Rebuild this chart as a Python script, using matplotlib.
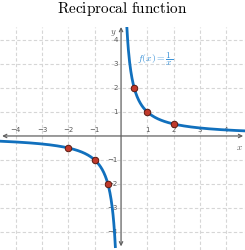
import numpy as np
import matplotlib.pyplot as plt

plt.rcParams['mathtext.fontset'] = 'cm'

# points on the curve
px = [-2, -1, -0.5, 0.5, 1, 2]
py = [-0.5, -1, -2, 2, 1, 0.5]
ticks = [-4, -3, -2, -1, 1, 2, 3, 4]

fig = plt.figure(figsize=(2.45, 2.5), dpi=100)
ax = fig.add_axes([0, 0, 1, 1 - 27 / 250])
ax.set_xlim(-4.6, 4.71)
ax.set_ylim(-4.75, 4.54)
ax.axis('off')

# dashed grid
for t in ticks:
    ax.axvline(t, color='#d6d6d6', lw=0.8, ls=(0, (3, 2)), zorder=0)
    ax.axhline(t, color='#d6d6d6', lw=0.8, ls=(0, (3, 2)), zorder=0)

# axes with arrows
ax.annotate('', xy=(4.64, 0), xytext=(-4.52, 0),
            arrowprops=dict(arrowstyle='<->', color='#606060', lw=0.9,
                            mutation_scale=6, shrinkA=0, shrinkB=0))
ax.annotate('', xy=(0, 4.54), xytext=(0, -4.6),
            arrowprops=dict(arrowstyle='<->', color='#606060', lw=0.9,
                            mutation_scale=6, shrinkA=0, shrinkB=0))

for t in ticks:
    ax.text(t, 0.12, str(t).replace('-', '−'), ha='center', va='bottom',
            fontsize=5, color='#555555')
    ax.text(-0.12, t, str(t).replace('-', '−'), ha='right', va='center',
            fontsize=5, color='#555555')
ax.text(4.5, -0.28, r'$x$', ha='center', va='top', fontsize=6.5, color='#555555')
ax.text(-0.3, 4.3, r'$y$', ha='center', va='center', fontsize=6.5, color='#555555')

# curve
xr = np.linspace(0.22, 4.71, 300)
xl = np.linspace(-4.6, -0.217, 300)
ax.plot(xr, 1 / xr, color='#1170bd', lw=2, zorder=3)
ax.plot(xl, 1 / xl, color='#1170bd', lw=2, zorder=3)

ax.scatter(px, py, s=22, color='#c0392b', edgecolor='#5a1a10', lw=0.7, zorder=4)

ax.text(1.3, 3.2, r'$f(x)=\dfrac{1}{x}$', ha='center', va='center',
        fontsize=7, color='#3a92d8')

fig.text(0.5, 0.965, r'$\mathrm{Reciprocal\ function}$', ha='center', va='center',
         fontsize=11)

fig.savefig('out.png', dpi=100)
